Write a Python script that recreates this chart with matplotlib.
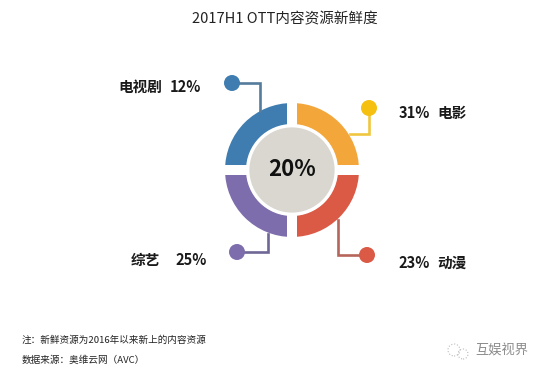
import matplotlib
matplotlib.use('Agg')
import matplotlib.pyplot as plt
from matplotlib.patches import Circle

plt.rcParams['font.family'] = ['Noto Sans CJK SC', 'DejaVu Sans']

# 数据
categories = ['电视剧', '电影', '动漫', '综艺']
shares = [12, 31, 23, 25]          # 新鲜度 %
segments = [1, 1, 1, 1]            # 圆环四等分
overall = 20
colors = ['#3F7DB0', '#F3A73B', '#DB5A46', '#7E6DAC']
dot_colors = ['#3F7DB0', '#F5C010', '#DB5A46', '#7E6DAC']
line_colors = ['#557C9C', '#F0C640', '#B56559', '#6F6796']

W, H = 548, 375
fig = plt.figure(figsize=(W / 100, H / 100), dpi=100)
ax = fig.add_axes([0, 0, 1, 1])

cx, cy = 292, 170   # 圆心（像素，y向下）

def Y(y):
    return H - y

ax.pie(segments, colors=colors, startangle=180, counterclock=False,
       radius=72, center=(cx, Y(cy)), frame=True,
       wedgeprops=dict(width=31, edgecolor='white', linewidth=7.2))
ax.add_patch(Circle((cx, Y(cy)), 44, fc='#D9D7D0', ec='white', lw=2, zorder=3))
ax.text(cx, Y(cy), f'{overall}%', ha='center', va='center', fontsize=16,
        fontweight='bold', color='#111111', zorder=4)

# 引线和圆点
leaders = [
    [(232, 83), (260, 83), (260, 111)],
    [(369, 108), (369, 134), (350, 134)],
    [(367, 255), (338, 255), (338, 220)],
    [(237, 252), (268, 252), (268, 234)],
]
for pts, lc, dc in zip(leaders, line_colors, dot_colors):
    xs = [p[0] for p in pts]
    ys = [Y(p[1]) for p in pts]
    ax.plot(xs, ys, color=lc, lw=1.9, solid_joinstyle='miter', zorder=2)
    ax.add_patch(Circle((xs[0], ys[0]), 8, fc=dc, ec='none', zorder=3))

# 标签
lab_kw = dict(fontsize=10.5, fontweight='bold', color='#1a1a1a', va='center')
ax.text(118, Y(87), categories[0], ha='left', **lab_kw)
ax.text(201, Y(87), f'{shares[0]}%', ha='right', **lab_kw)
ax.text(399, Y(113), f'{shares[1]}%', ha='left', **lab_kw)
ax.text(467, Y(113), categories[1], ha='right', **lab_kw)
ax.text(398, Y(263), f'{shares[2]}%', ha='left', **lab_kw)
ax.text(467, Y(263), categories[2], ha='right', **lab_kw)
ax.text(131, Y(260), categories[3], ha='left', **lab_kw)
ax.text(207, Y(260), f'{shares[3]}%', ha='right', **lab_kw)

# 标题
ax.text(285, Y(19), '2017H1 OTT内容资源新鲜度', ha='center', va='center',
        fontsize=10.5, color='#222222')

# 注释
ax.text(22, Y(340), '注：新鲜资源为2016年以来新上的内容资源', ha='left', va='center',
        fontsize=6.9, color='#222222')
ax.text(22, Y(360), '数据来源：奥维云网（AVC）', ha='left', va='center',
        fontsize=6.9, color='#222222')

# 水印
ax.add_patch(Circle((454, Y(350)), 6, fc='none', ec='#bbbbbb', lw=0.8, ls=':'))
ax.add_patch(Circle((463, Y(354)), 5, fc='none', ec='#bbbbbb', lw=0.8, ls=':'))
ax.text(475, Y(351), '互娱视界', ha='left', va='center', fontsize=9.5, color='#8a8a8a')

ax.set_xlim(0, W)
ax.set_ylim(0, H)
ax.axis('off')

fig.savefig('out.png', dpi=100, facecolor='white')
